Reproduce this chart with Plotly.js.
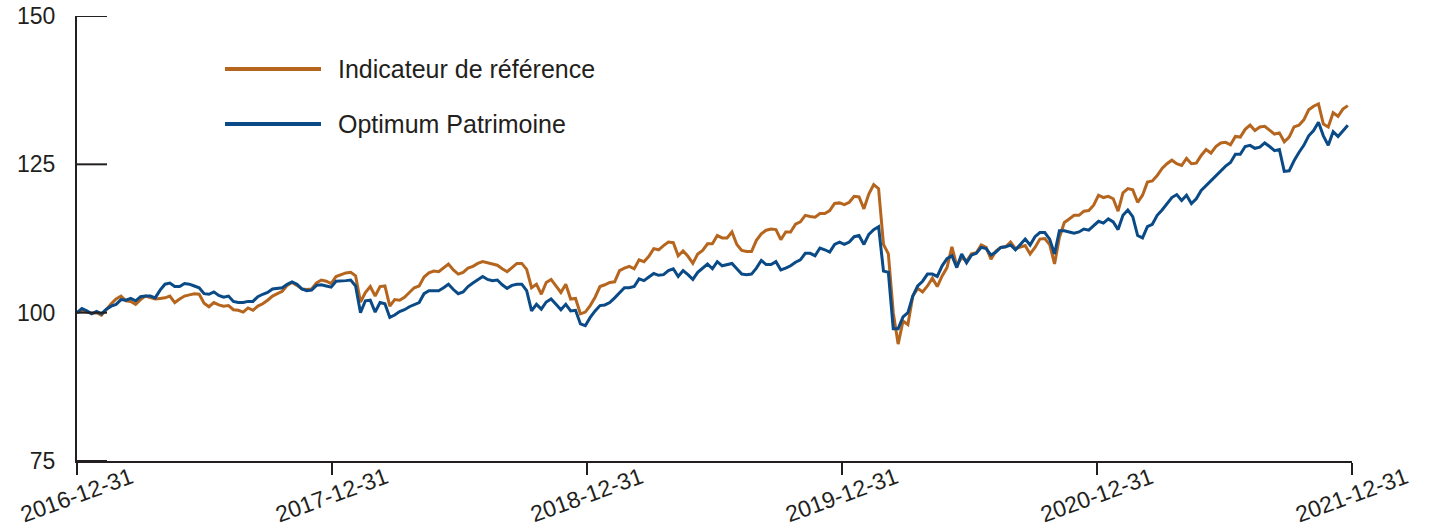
<!DOCTYPE html>
<html>
<head>
<meta charset="utf-8">
<script src="https://cdn.plot.ly/plotly-3.0.1.min.js"></script>
<style>
  html, body { margin: 0; padding: 0; background: #ffffff; }
  #chart { width: 1432px; height: 530px; }
</style>
</head>
<body>
<div id="chart"></div>
<script>
// ---------------- DATA ----------------
const startDate = '2016-12-31';
const endDate = '2021-12-31';
const tickDates = ['2016-12-31', '2017-12-31', '2018-12-31', '2019-12-31', '2020-12-31', '2021-12-31'];
const yTicks = [75, 100, 125, 150];
const seriesNames = ['Indicateur de référence', 'Optimum Patrimoine'];

// Weekly index values (base 100 at 2016-12-31)
const indicateur = [
  100.0, 100.3, 100.1, 99.9, 100.0, 99.6, 100.5, 101.5, 102.3, 102.8, 102.0, 101.9, 101.4, 102.2, 102.8, 102.6, 102.3, 102.4, 102.5, 102.8, 101.7, 102.3, 102.8, 103.0, 103.2, 103.1, 101.6, 101.0, 101.7, 101.3, 101.1, 101.2, 100.5, 100.4, 100.1, 100.8, 100.4, 101.1, 101.5, 102.1, 102.8, 103.2, 103.6, 104.6,
  105.1, 104.6, 104.0, 103.9, 104.0, 105.0, 105.5, 105.3, 104.9, 106.1, 106.4, 106.7, 106.8, 106.2, 101.8, 103.4, 104.4, 102.8, 104.4, 104.5, 101.1, 102.2, 102.1, 102.6, 103.4, 104.2, 104.5, 106.0, 106.7, 107.0, 106.9, 107.6, 108.2, 107.2, 106.5, 106.8, 107.5, 107.8, 108.3, 108.6, 108.4, 108.3, 108.0, 107.4,
  106.9, 107.6, 108.3, 108.3, 107.3, 104.2, 104.8, 103.1, 105.1, 105.6, 104.5, 103.4, 104.8, 102.3, 102.4,
  99.8, 100.1, 101.2, 102.6, 104.4, 104.7, 105.1, 105.2, 107.1, 107.5, 107.8, 107.4, 108.9, 108.6, 109.5, 110.8, 110.6, 111.3, 111.9, 111.8, 109.6, 110.4, 109.5, 108.3, 109.9, 110.5, 111.6, 111.6, 113.0, 112.6, 112.6, 113.6, 111.5, 110.5, 110.3, 110.3, 112.2, 113.3, 113.9, 114.1, 114.0, 112.3, 113.6, 113.6, 114.9, 115.3, 116.4, 116.2, 116.1, 116.7, 116.7, 117.2, 118.4, 118.5, 118.2, 118.6,
  119.6, 119.5, 117.5, 120.0, 121.6, 120.9, 111.5, 109.9, 100.0, 94.7, 98.6, 98.0, 102.8, 104.1, 103.5, 104.5,
  105.8, 104.4, 106.2, 107.6, 111.1, 107.9, 109.3, 108.7, 109.9, 110.1, 111.4, 111.0, 109.0, 110.4, 111.0, 111.1, 111.9, 110.8, 111.0, 111.3, 109.9, 111.0, 112.4, 112.5, 111.5, 108.2, 112.7, 115.2, 115.8, 116.4,
  116.4, 117.1, 117.2, 118.1, 119.8, 119.4, 119.6, 119.2, 117.1, 120.2, 120.9, 120.7, 118.6, 119.8, 122.0, 122.2, 123.1, 124.3, 125.1, 125.7, 125.1, 124.8, 126.0, 125.1, 125.2, 126.5,
  127.5, 126.9, 128.0, 128.6, 128.7, 128.3, 129.7, 129.6, 130.9, 131.6, 130.7, 131.3, 131.4, 130.7, 130.1, 130.3, 128.8, 129.6, 131.3, 131.6, 132.5, 134.2, 134.8, 135.2, 131.8, 131.3, 133.7, 133.1, 134.3, 134.9
];

const optimum = [
  100.0, 100.7, 100.3, 99.8, 100.2, 99.8, 100.6, 101.1, 101.4, 102.2, 102.1, 102.4, 102.0, 102.7, 102.8, 102.8, 102.5, 103.8, 104.8, 105.0, 104.4, 104.4, 104.9, 104.8, 104.5, 104.2, 103.2, 103.1, 103.5, 102.9, 102.6, 102.8, 101.9, 101.7, 101.7, 101.9, 101.9, 102.7, 103.1, 103.4, 104.0, 104.1, 104.2, 104.8,
  105.2, 104.8, 104.0, 103.7, 103.8, 104.6, 104.7, 104.5, 104.3, 105.3, 105.3, 105.4, 105.5, 104.5, 100.0, 102.0, 102.1, 100.1, 101.7, 101.5, 99.2, 99.6, 100.2, 100.5, 101.0, 101.4, 101.7, 103.2, 103.7, 103.7, 103.7, 104.2, 104.8, 103.9, 103.2, 103.5, 104.4, 105.0, 105.6, 106.1, 105.6, 105.4, 105.5, 104.7,
  104.1, 104.6, 104.8, 104.8, 103.7, 100.3, 101.4, 100.6, 101.8, 102.3, 101.4, 100.5, 101.4, 100.3, 100.4,
  98.1, 97.8, 99.2, 100.3, 101.2, 101.3, 101.7, 102.5, 103.4, 104.2, 104.2, 104.4, 105.7, 105.4, 106.0, 106.6, 106.3, 106.4, 107.1, 107.4, 106.1, 107.1, 106.4, 105.6, 106.8, 107.5, 108.2, 107.4, 108.6, 107.9, 108.1, 108.3, 107.4, 106.5, 106.4, 106.5, 107.5, 108.8, 108.1, 108.1, 108.6, 107.2, 107.5, 107.9, 108.5, 108.9, 110.0, 110.0, 109.6, 110.9, 110.6, 110.2, 111.5, 111.9, 111.5, 111.9,
  112.8, 113.0, 111.5, 113.2, 114.0, 114.5, 107.0, 106.8, 97.3, 97.3, 99.3, 100.0, 102.8, 104.5, 105.3, 106.5,
  106.5, 106.1, 107.9, 109.1, 109.6, 107.6, 109.9, 108.4, 109.7, 110.0, 111.0, 110.8, 109.7, 110.2, 111.0, 111.1, 111.4, 110.6, 111.5, 112.4, 111.4, 112.8, 113.5, 113.5, 112.4, 109.9, 113.8, 113.8, 113.6, 113.4,
  113.6, 114.1, 113.9, 114.7, 115.4, 115.1, 115.8, 115.3, 114.0, 116.4, 117.3, 116.2, 113.0, 112.6, 114.5, 114.9, 116.4, 117.3, 118.4, 119.4, 119.9, 118.9, 119.8, 118.4, 119.2, 120.6,
  121.4, 122.2, 123.1, 123.9, 124.7, 125.3, 126.7, 126.7, 128.0, 128.2, 127.7, 127.9, 128.6, 128.0, 127.3, 127.5, 123.8, 123.9, 125.6, 127.0, 128.2, 129.8, 130.7, 132.1, 129.8, 128.2, 130.5, 129.7, 130.7, 131.6
];

// ---------------- BUILD ----------------
function weeklyDates(start, n) {
  const out = [];
  const d0 = new Date(start + 'T00:00:00Z');
  for (let i = 0; i < n; i++) {
    const d = new Date(d0.getTime() + i * 7 * 86400000);
    out.push(d.toISOString().slice(0, 10));
  }
  return out;
}
const dates = weeklyDates(startDate, indicateur.length);

const COL_ORANGE = '#b5651d';
const COL_BLUE = '#0a4a86';
const INK = '#231f20';
const FONT = '"Liberation Sans", Arial, sans-serif';

// plot-area pixel frame
const W = 1432, H = 530;
const PL = 77, PR = 1352, PT = 16, PB = 461;
const px = x => (x - PL) / (PR - PL);
const py = y => (PB - y) / (PB - PT);

const traces = [
  { x: dates, y: indicateur, name: seriesNames[0], type: 'scatter', mode: 'lines',
    line: { color: COL_ORANGE, width: 3 } },
  { x: dates, y: optimum, name: seriesNames[1], type: 'scatter', mode: 'lines',
    line: { color: COL_BLUE, width: 3 } }
];

const legendRows = [
  { name: seriesNames[0], color: COL_ORANGE, yPix: 69 },
  { name: seriesNames[1], color: COL_BLUE, yPix: 124 }
];

const shapes = legendRows.map(r => ({
  type: 'line', xref: 'paper', yref: 'paper',
  x0: px(225), x1: px(321), y0: py(r.yPix), y1: py(r.yPix),
  line: { color: r.color, width: 4 }
}));

// inward y-axis ticks, drawn above the lines
yTicks.forEach(v => {
  shapes.push({
    type: 'line', xref: 'paper', yref: 'y', layer: 'above',
    x0: 0, x1: px(107), y0: v, y1: v,
    line: { color: INK, width: 2 }
  });
});

const annotations = legendRows.map(r => ({
  xref: 'paper', yref: 'paper', x: px(336), y: py(r.yPix),
  xanchor: 'left', yanchor: 'middle', showarrow: false,
  text: r.name, font: { family: FONT, size: 25, color: INK }
}));

tickDates.forEach(d => {
  annotations.push({
    xref: 'x', yref: 'paper', x: d, y: 0, yshift: -34,
    xanchor: 'center', yanchor: 'middle', showarrow: false,
    textangle: -20, text: d,
    font: { family: FONT, size: 23, color: INK }
  });
});

const layout = {
  width: W, height: H,
  margin: { l: PL, r: W - PR, t: PT, b: H - PB, pad: 0 },
  paper_bgcolor: '#ffffff', plot_bgcolor: '#ffffff',
  showlegend: false,
  font: { family: FONT, size: 22, color: INK },
  xaxis: {
    type: 'date', range: [startDate, endDate],
    tickmode: 'array', tickvals: tickDates, showticklabels: false,
    ticks: 'outside', ticklen: 12, tickwidth: 2, tickcolor: INK,
    showline: true, linecolor: INK, linewidth: 2, layer: 'above traces',
    showgrid: false, zeroline: false, fixedrange: true
  },
  yaxis: {
    range: [75, 150], tickmode: 'array', tickvals: yTicks,
    ticktext: yTicks.map(String),
    ticks: '', ticklabelstandoff: 15,
    showline: true, linecolor: INK, linewidth: 2, layer: 'above traces',
    showgrid: false, zeroline: false, fixedrange: true,
    tickfont: { family: FONT, size: 23, color: INK }
  },
  shapes: shapes,
  annotations: annotations
};

Plotly.newPlot('chart', traces, layout, { displayModeBar: false, staticPlot: true });
</script>
</body>
</html>
